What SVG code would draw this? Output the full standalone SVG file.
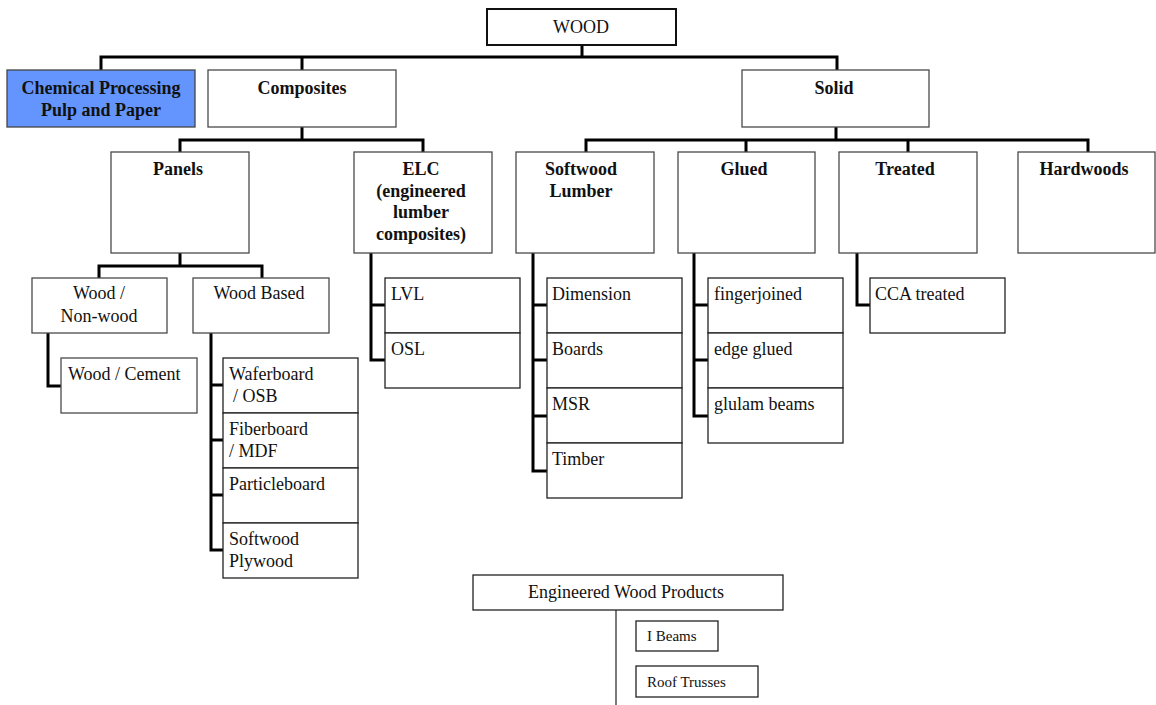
<svg xmlns="http://www.w3.org/2000/svg" width="1156" height="705" viewBox="0 0 1156 705">
<style>
.b{fill:#fff;stroke:#4a4a4a;stroke-width:1.3}
.k{fill:#fff;stroke:#222;stroke-width:1.3}
.t{font-family:"Liberation Serif","Times New Roman",serif;font-size:18px;fill:#111}
.tb{font-family:"Liberation Serif","Times New Roman",serif;font-size:18px;font-weight:bold;fill:#111;text-anchor:middle}
.tc{text-anchor:middle}
.s{font-family:"Liberation Serif","Times New Roman",serif;font-size:15px;fill:#111}
.c{fill:none;stroke:#000;stroke-width:3;stroke-linecap:square;stroke-linejoin:miter}
</style>
<rect width="1156" height="705" fill="#fff"/>
<g id="connectors">
<path class="c" d="M582 45V57M101 70V57H837V70M302 57V70"/>
<path class="c" d="M302 127V140M180 152V140H423V152"/>
<path class="c" d="M836 127V140M586 152V140H1088V152M746 140V152M908 140V152"/>
<path class="c" d="M180 253V266M99 278V266H262V278"/>
<path class="c" d="M48 333V386H61"/>
<path class="c" d="M211 333V550H223M211 385H223M211 440H223M211 495H223"/>
<path class="c" d="M371 253V360H385M371 305H385"/>
<path class="c" d="M533 253V471H547M533 305H547M533 360H547M533 416H547"/>
<path class="c" d="M694 253V416H708M694 305H708M694 360H708"/>
<path class="c" d="M857 253V305H870"/>
<path d="M616 610V705" stroke="#333" stroke-width="1.3" fill="none"/>
</g>
<g id="wood"><rect x="487" y="9" width="189" height="36" fill="#fff" stroke="#111" stroke-width="2"/><text class="t tc" x="581" y="33">WOOD</text></g>
<g id="chemical"><rect x="7" y="70" width="188" height="57" fill="#6495ff" stroke="#444" stroke-width="1.3"/><text class="tb" x="101" y="94">Chemical Processing</text><text class="tb" x="101" y="116">Pulp and Paper</text></g>
<g id="composites"><rect class="b" x="208" y="70" width="188" height="57"/><text class="tb" x="302" y="94">Composites</text></g>
<g id="solid"><rect class="b" x="742" y="70" width="187" height="57"/><text class="tb" x="834" y="94">Solid</text></g>
<g id="panels"><rect class="b" x="111" y="152" width="138" height="101"/><text class="tb" x="178" y="175">Panels</text></g>
<g id="elc"><rect class="b" x="354" y="152" width="138" height="101"/><text class="tb" x="421" y="175">ELC</text><text class="tb" x="421" y="197">(engineered</text><text class="tb" x="421" y="218">lumber</text><text class="tb" x="421" y="240">composites)</text></g>
<g id="softwood-lumber"><rect class="b" x="516" y="152" width="138" height="101"/><text class="tb" x="581" y="175">Softwood</text><text class="tb" x="581" y="197">Lumber</text></g>
<g id="glued"><rect class="b" x="678" y="152" width="137" height="101"/><text class="tb" x="744" y="175">Glued</text></g>
<g id="treated"><rect class="b" x="839" y="152" width="138" height="101"/><text class="tb" x="905" y="175">Treated</text></g>
<g id="hardwoods"><rect class="b" x="1018" y="152" width="137" height="101"/><text class="tb" x="1084" y="175">Hardwoods</text></g>
<g id="wood-nonwood"><rect class="b" x="32" y="278" width="135" height="55"/><text class="t tc" x="99" y="299">Wood /</text><text class="t tc" x="99" y="322">Non-wood</text></g>
<g id="wood-based"><rect class="b" x="193" y="278" width="136" height="55"/><text class="t tc" x="259" y="299">Wood Based</text></g>
<g id="wood-cement"><rect class="b" x="61" y="358" width="136" height="55"/><text class="t" x="68" y="380">Wood / Cement</text></g>
<g id="waferboard"><rect class="k" x="223" y="358" width="135" height="55"/><text class="t" x="229" y="380">Waferboard</text><text class="t" x="233" y="402"> / OSB</text></g>
<g id="fiberboard"><rect class="k" x="223" y="413" width="135" height="55"/><text class="t" x="229" y="435">Fiberboard</text><text class="t" x="229" y="457">/ MDF</text></g>
<g id="particleboard"><rect class="k" x="223" y="468" width="135" height="55"/><text class="t" x="229" y="490">Particleboard</text></g>
<g id="softwood-plywood"><rect class="k" x="223" y="523" width="135" height="55"/><text class="t" x="229" y="545">Softwood</text><text class="t" x="229" y="567">Plywood</text></g>
<g id="lvl"><rect class="k" x="385" y="278" width="135" height="55"/><text class="t" x="391" y="300">LVL</text></g>
<g id="osl"><rect class="k" x="385" y="333" width="135" height="55"/><text class="t" x="391" y="355">OSL</text></g>
<g id="dimension"><rect class="k" x="547" y="278" width="135" height="55"/><text class="t" x="552" y="300">Dimension</text></g>
<g id="boards"><rect class="k" x="547" y="333" width="135" height="55"/><text class="t" x="552" y="355">Boards</text></g>
<g id="msr"><rect class="k" x="547" y="388" width="135" height="55"/><text class="t" x="552" y="410">MSR</text></g>
<g id="timber"><rect class="k" x="547" y="443" width="135" height="55"/><text class="t" x="552" y="465">Timber</text></g>
<g id="fingerjoined"><rect class="k" x="708" y="278" width="135" height="55"/><text class="t" x="714" y="300">fingerjoined</text></g>
<g id="edge-glued"><rect class="k" x="708" y="333" width="135" height="55"/><text class="t" x="714" y="355">edge glued</text></g>
<g id="glulam-beams"><rect class="k" x="708" y="388" width="135" height="55"/><text class="t" x="714" y="410">glulam beams</text></g>
<g id="cca-treated"><rect class="k" x="870" y="278" width="135" height="55"/><text class="t" x="875" y="300">CCA treated</text></g>
<g id="engineered-wood-products"><rect class="k" x="473" y="575" width="310" height="35"/><text class="t tc" x="626" y="598">Engineered Wood Products</text></g>
<g id="i-beams"><rect class="k" x="636" y="621" width="82" height="30"/><text class="s" x="647" y="641">I Beams</text></g>
<g id="roof-trusses"><rect class="k" x="636" y="666" width="122" height="31"/><text class="s" x="647" y="687">Roof Trusses</text></g>
</svg>
